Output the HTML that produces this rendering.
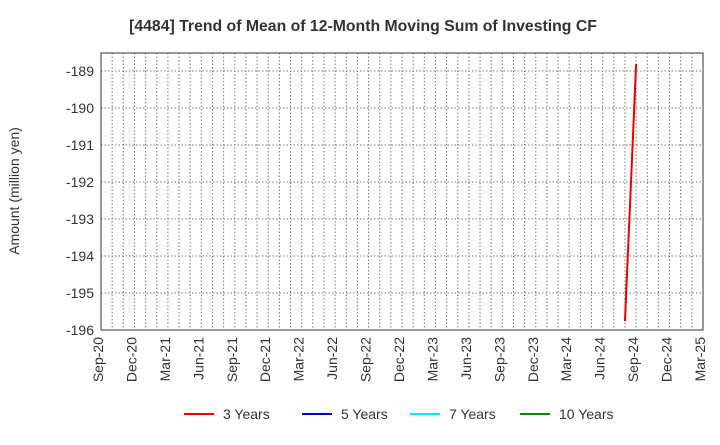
<!DOCTYPE html>
<html><head><meta charset="utf-8"><style>
body{margin:0;background:#fff;font-family:"Liberation Sans",sans-serif}
</style></head><body>
<svg id="c" width="720" height="440" xmlns="http://www.w3.org/2000/svg">
<text x="363" y="31" text-anchor="middle" font-size="15.8" font-weight="bold" fill="#333">[4484]  Trend of Mean of 12-Month Moving Sum of Investing CF</text>
<text transform="translate(19,191) rotate(-90)" text-anchor="middle" font-size="14" fill="#333">Amount (million yen)</text>
<g id="grid"></g><g id="axes"></g><g id="series"></g>
<g>
<line x1="184" y1="414" x2="214" y2="414" stroke="#e00" stroke-width="2"/><text x="223" y="419" font-size="14" fill="#333">3 Years</text>
<line x1="302" y1="414" x2="332" y2="414" stroke="#00c" stroke-width="2"/><text x="341" y="419" font-size="14" fill="#333">5 Years</text>
<line x1="410" y1="414" x2="440" y2="414" stroke="#0ee" stroke-width="2"/><text x="449" y="419" font-size="14" fill="#333">7 Years</text>
<line x1="520" y1="414" x2="550" y2="414" stroke="#080" stroke-width="2"/><text x="559" y="419" font-size="14" fill="#333">10 Years</text>
</g>
</svg>
<script>
const xTickLabels=["Sep-20","Dec-20","Mar-21","Jun-21","Sep-21","Dec-21","Mar-22","Jun-22","Sep-22","Dec-22","Mar-23","Jun-23","Sep-23","Dec-23","Mar-24","Jun-24","Sep-24","Dec-24","Mar-25"];
const yTicks=[-196,-195,-194,-193,-192,-191,-190,-189];
const series3Months=[47,48]; // months since Sep-20
const series3Values=[-195.76,-188.81];
const L=101,R=703,T=53,B=330;
const ns="http://www.w3.org/2000/svg";
const xs=m=>L+(R-L)*m/54;
const ys=v=>B-(v+196)*(B-71)/7;
function mk(t,a,p){const e=document.createElementNS(ns,t);for(const k in a)e.setAttribute(k,a[k]);document.getElementById(p).appendChild(e);return e;}
for(let m=1;m<54;m++){const g=mk('line',{x1:xs(m),x2:xs(m),y1:T,y2:B,stroke:'#777','stroke-dasharray':'1.5,2','stroke-width':1},'grid');

}
yTicks.forEach(v=>{const g=mk('line',{x1:L,x2:R,y1:ys(v),y2:ys(v),stroke:'#777','stroke-dasharray':'1.5,2','stroke-width':1},'grid');


const t=mk('text',{x:L-7,y:ys(v)+5,'text-anchor':'end','font-size':14,fill:'#333'},'axes');t.textContent=v;

});
xTickLabels.forEach((s,i)=>{const x=xs(i*3);const t=mk('text',{transform:`translate(${x+2},${B+7}) rotate(-90)`,'text-anchor':'end','font-size':14,fill:'#333'},'axes');t.textContent=s;

});
const fr=mk('rect',{x:L,y:T,width:R-L,height:B-T,fill:'none',stroke:'#333','stroke-width':1},'axes');


const pl=mk('polyline',{points:series3Months.map((m,i)=>xs(m)+','+ys(series3Values[i])).join(' '),fill:'none',stroke:'#e00','stroke-width':2},'series');


</script>
</body></html>
